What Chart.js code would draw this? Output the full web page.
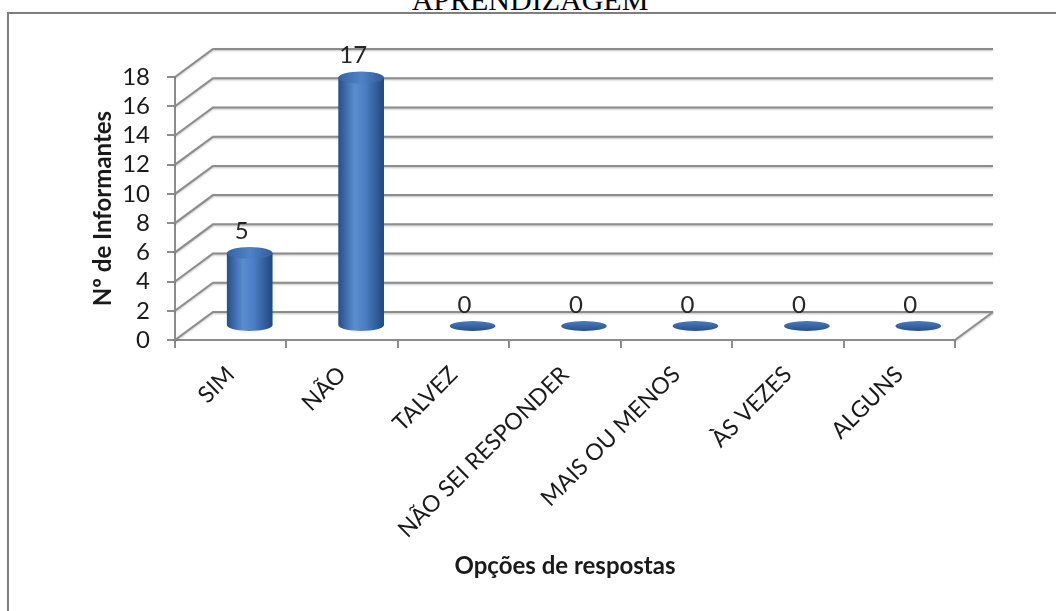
<!DOCTYPE html>
<html>
<head>
<meta charset="utf-8">
<script src="https://cdn.jsdelivr.net/npm/chart.js@4.4.0/dist/chart.umd.min.js"></script>
<style>
html,body{margin:0;padding:0;background:#fff;overflow:hidden}
#wrap{position:relative;width:1056px;height:611px;overflow:hidden}
#titulo{position:absolute;left:0;width:1060px;top:-17px;text-align:center;font:30px "Liberation Serif","Times New Roman",serif;line-height:34px;color:#000}
#moldura{position:absolute;left:7px;top:12px;width:1100px;height:700px;border:2px solid #7f7f7f;box-shadow:1px 1px 2px rgba(0,0,0,.25)}
#grafico{position:absolute;left:0;top:0}
</style>
</head>
<body>
<div id="wrap">
  <div id="titulo">APRENDIZAGEM</div>
  <div id="moldura"></div>
  <canvas id="grafico" width="1056" height="611"></canvas>
</div>
<script>
const categorias=["SIM","NÃO","TALVEZ","NÃO SEI RESPONDER","MAIS OU MENOS","ÀS VEZES","ALGUNS"]
const valores=[5,17,0,0,0,0,0]
const marcasY=[0,2,4,6,8,10,12,14,16,18]

// profundidade do efeito 3D
const dx=38, dy=-28
const cinza='#8c8c8c'
const fonte='Lato'

const parede3d={
  id:'parede3d',
  beforeDatasetsDraw(chart){
    const {ctx,chartArea:a,scales:{y}}=chart
    ctx.save()
    ctx.strokeStyle=cinza
    ctx.lineWidth=2
    ctx.shadowColor='rgba(0,0,0,0.25)'
    ctx.shadowOffsetY=1
    ctx.shadowBlur=2
    y.ticks.forEach(t=>{
      const py=y.getPixelForValue(t.value)
      ctx.beginPath()
      ctx.moveTo(a.left,py)
      ctx.lineTo(a.left+dx,py+dy)
      ctx.lineTo(a.right+dx,py+dy)
      ctx.stroke()
    })
    ctx.beginPath()
    ctx.moveTo(a.right,a.bottom)
    ctx.lineTo(a.right+dx,a.bottom+dy)
    ctx.stroke()
    ctx.restore()
  }
}

const cilindros={
  id:'cilindros',
  afterDatasetsDraw(chart){
    const ctx=chart.ctx
    const meta=chart.getDatasetMeta(0)
    ctx.save()
    meta.data.forEach((b,i)=>{
      const cx=b.x+dx/2, topo=b.y+dy/2, base=b.base+dy/2, rx=b.width/2
      const g=ctx.createLinearGradient(cx-rx,0,cx+rx,0)
      g.addColorStop(0,'#244f8a')
      g.addColorStop(0.35,'#5a8dcf')
      g.addColorStop(0.6,'#4a7dc2')
      g.addColorStop(1,'#1f4780')
      let ry=6
      if(base-topo>1){
        ctx.fillStyle=g
        ctx.beginPath()
        ctx.moveTo(cx-rx,topo)
        ctx.lineTo(cx-rx,base)
        ctx.ellipse(cx,base,rx,ry,0,Math.PI,0,true)
        ctx.lineTo(cx+rx,topo)
        ctx.closePath()
        ctx.fill()
        const gt=ctx.createLinearGradient(cx-rx,0,cx+rx,0)
        gt.addColorStop(0,'#3465a6')
        gt.addColorStop(0.5,'#4f82c6')
        gt.addColorStop(1,'#2f5c9a')
        ctx.fillStyle=gt
        ctx.beginPath()
        ctx.ellipse(cx,topo,rx,ry,0,0,Math.PI*2)
        ctx.fill()
      }else{
        ry=5
        const gd=ctx.createLinearGradient(0,base-ry,0,base+ry)
        gd.addColorStop(0,'#4a7cc0')
        gd.addColorStop(1,'#254f8a')
        ctx.fillStyle=gd
        ctx.beginPath()
        ctx.ellipse(cx,base,rx,ry,0,0,Math.PI*2)
        ctx.fill()
      }
      ctx.fillStyle='#262626'
      ctx.font='24px '+fonte
      ctx.textAlign='center'
      ctx.textBaseline='bottom'
      ctx.fillText(String(valores[i]),cx-8,topo-ry-4)
    })
    ctx.restore()
  }
}

const ctx=document.getElementById('grafico')
const grafico=new Chart(ctx,{
  type:'bar',
  data:{
    labels:categorias,
    datasets:[{
      data:valores,
      backgroundColor:'rgba(0,0,0,0)',
      borderWidth:0,
      barPercentage:0.41,
      categoryPercentage:1
    }]
  },
  options:{
    responsive:false,
    animation:false,
    devicePixelRatio:1,
    layout:{padding:{left:85,top:77,right:101,bottom:26}},
    plugins:{legend:{display:false},tooltip:{enabled:false}},
    scales:{
      x:{
        grid:{drawOnChartArea:false,tickLength:8,color:cinza,lineWidth:2},
        border:{display:true,color:cinza,width:2},
        ticks:{font:{family:fonte,size:23},color:'#1a1a1a',maxRotation:45,minRotation:45,padding:13,autoSkip:false},
        title:{display:true,text:'Opções de respostas',font:{family:fonte,size:24,weight:'bold'},color:'#1a1a1a'},
        afterFit(s){s.height=611-26-340}
      },
      y:{
        min:0,max:18,
        afterBuildTicks(s){s.ticks=marcasY.map(v=>({value:v}))},
        grid:{drawOnChartArea:false,tickLength:8,color:cinza,lineWidth:2},
        border:{display:true,color:cinza,width:2},
        ticks:{font:{family:fonte,size:24},color:'#1a1a1a',padding:17,autoSkip:false},
        title:{display:true,text:'Nº de Informantes',font:{family:fonte,size:24,weight:'bold'},color:'#1a1a1a'},
        afterFit(s){s.width=175-85}
      }
    }
  },
  plugins:[parede3d,cilindros]
})
</script>
</body>
</html>
